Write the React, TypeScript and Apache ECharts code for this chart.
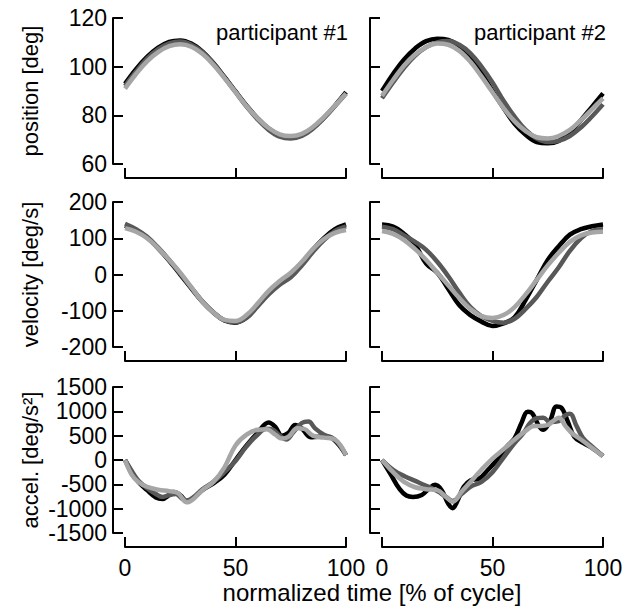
import React, { useEffect, useRef } from "react";
import * as echarts from "echarts";

// x positions (normalized time, % of cycle)
const xs = [0, 5, 10, 15, 20, 25, 30, 35, 40, 45, 50, 55, 60, 65, 70, 75, 80, 85, 90, 95, 100];

// participant #1 position [deg]
const p1PosBlack = [93, 99, 104, 107.8, 110.2, 110.8, 109.5, 106.3, 101.5, 95.8, 89.8, 84, 78.8, 74.6, 71.8, 71, 72, 74.8, 79, 84, 89.5];
const p1PosDark = [92, 98, 103.3, 107.2, 109.6, 110.3, 109, 106, 101.3, 95.6, 89.6, 83.6, 78.3, 74, 71.2, 70.5, 71.5, 74.5, 78.8, 83.8, 89];
const p1PosLight = [91, 97, 102.2, 106, 108.4, 109.2, 108.2, 105.3, 100.8, 95.3, 89.5, 83.8, 78.8, 74.8, 72.2, 71.5, 72.4, 75.2, 79.3, 84, 89];

// participant #2 position [deg]
const p2PosBlack = [90, 97, 103, 107.5, 110.5, 111.5, 111, 108.5, 104, 97.5, 90, 83, 76.5, 72, 69, 68.5, 69.5, 73, 78, 83.5, 89];
const p2PosDark = [87, 93.5, 99.5, 104.5, 108, 110, 110.5, 109, 105.5, 100, 93.5, 86, 79.5, 74, 70.5, 69, 69.5, 71.5, 75, 79.5, 84.5];
const p2PosLight = [88, 94.5, 100.5, 105, 108, 109.5, 109, 106.5, 102, 96, 89.5, 83, 77.5, 73.5, 71, 70.5, 71.5, 74, 78, 82.5, 87];

// participant #1 velocity [deg/s]
const p1VelBlack = [135, 122, 102, 72, 38, 0, -38, -75, -105, -127, -133, -118, -85, -50, -20, -2, 30, 68, 100, 125, 138];
const p1VelDark = [140, 125, 104, 74, 40, 2, -36, -74, -104, -126, -132, -120, -88, -55, -28, -8, 25, 62, 95, 120, 133];
const p1VelLight = [128, 118, 100, 72, 40, 5, -35, -75, -105, -125, -128, -112, -80, -45, -18, 5, 35, 70, 98, 115, 123];

// participant #2 velocity [deg/s]
const p2VelBlack = [138, 132, 112, 82, 30, 5, -40, -85, -112, -130, -142, -135, -118, -70, -15, 40, 78, 110, 125, 133, 138];
const p2VelDark = [132, 125, 108, 90, 68, 35, -5, -50, -90, -115, -128, -133, -122, -95, -62, -20, 20, 65, 100, 120, 125];
const p2VelLight = [120, 112, 95, 70, 40, 5, -30, -65, -95, -115, -120, -112, -90, -55, -15, 25, 60, 90, 108, 116, 118];

// participant #1 acceleration [deg/s²] as [time, value]
const p1AccBlack = [[0, 0], [3, -250], [6, -450], [10, -620], [14, -770], [17, -800], [20, -720], [22, -660], [25, -720], [28, -850], [31, -780], [35, -620], [40, -480], [45, -300], [50, 0], [55, 300], [60, 560], [65, 770], [68, 680], [71, 500], [74, 560], [77, 720], [80, 650], [84, 470], [88, 480], [92, 480], [96, 350], [100, 100]];
const p1AccDark = [[0, 0], [3, -220], [6, -420], [10, -580], [14, -700], [17, -760], [20, -720], [23, -700], [26, -800], [28, -830], [31, -760], [35, -600], [40, -450], [45, -250], [50, -20], [55, 280], [60, 520], [64, 640], [67, 620], [70, 500], [73, 420], [76, 560], [80, 760], [83, 790], [86, 650], [90, 520], [95, 420], [100, 100]];
const p1AccLight = [[0, 0], [3, -300], [6, -450], [10, -550], [15, -610], [20, -640], [24, -680], [28, -870], [31, -800], [35, -620], [40, -450], [45, -150], [50, 300], [55, 520], [60, 620], [64, 630], [68, 520], [71, 440], [74, 480], [78, 650], [81, 640], [85, 500], [90, 460], [95, 420], [100, 100]];

// participant #2 acceleration [deg/s²] as [time, value]
const p2AccBlack = [[0, 0], [4, -300], [8, -600], [11, -730], [14, -760], [18, -720], [21, -600], [24, -510], [27, -620], [30, -900], [32, -990], [34, -850], [37, -550], [40, -420], [44, -380], [48, -200], [52, 0], [56, 250], [60, 450], [63, 750], [66, 990], [68, 960], [71, 700], [73, 620], [76, 800], [79, 1100], [81, 1080], [84, 800], [87, 480], [91, 350], [95, 250], [100, 80]];
const p2AccDark = [[0, 0], [5, -200], [10, -330], [15, -430], [20, -530], [25, -640], [29, -760], [32, -840], [36, -700], [40, -550], [45, -450], [50, -250], [55, 50], [60, 350], [64, 550], [67, 760], [70, 860], [73, 870], [76, 780], [80, 800], [83, 920], [85, 950], [88, 700], [91, 450], [95, 280], [100, 80]];
const p2AccLight = [[0, 0], [5, -250], [10, -450], [15, -560], [20, -600], [25, -620], [29, -760], [32, -860], [36, -650], [40, -450], [45, -200], [50, 30], [55, 220], [60, 420], [65, 600], [69, 700], [72, 700], [75, 720], [78, 820], [80, 870], [83, 700], [86, 550], [90, 420], [95, 250], [100, 80]];

const rowNames = ["position [deg]", "velocity [deg/s]", "accel. [deg/s\u00b2]"];
const rowMin = [60, -200, -1500];
const rowMax = [120, 200, 1500];
const rowInterval = [20, 100, 500];
const participants = ["participant #1", "participant #2"];
const xName = "normalized time [% of cycle]";

const COLORS = ["#000000", "#585858", "#a6a6a6"];
const FONT = "Liberation Sans, Arial, sans-serif";

export default function App() {
  const ref = useRef<HTMLDivElement>(null);
  useEffect(() => {
    if (!ref.current) return;
    const chart = echarts.init(ref.current, null, { renderer: "svg" });
    const rowTop = [18, 202, 387];
    const rowH = [146, 145, 146];
    const colLeft = [125, 382];
    const colW = 221;

    const grids: any[] = [];
    const xAxes: any[] = [];
    const yAxes: any[] = [];
    const series: any[] = [];

    const rowsData = [
      [[p1PosBlack, p1PosDark, p1PosLight], [p2PosBlack, p2PosDark, p2PosLight]],
      [[p1VelBlack, p1VelDark, p1VelLight], [p2VelBlack, p2VelDark, p2VelLight]],
      [[p1AccBlack, p1AccDark, p1AccLight], [p2AccBlack, p2AccDark, p2AccLight]],
    ];

    const axisLine = { show: true, onZero: false, lineStyle: { color: "#000", width: 2 } };
    const axisTick = { show: true, inside: true, length: 10, lineStyle: { color: "#000", width: 2 } };
    const fmt = (v: number) => String(v);

    for (let r = 0; r < 3; r++) {
      for (let c = 0; c < 2; c++) {
        const idx = grids.length;
        grids.push({ left: colLeft[c], top: rowTop[r], width: colW, height: rowH[r], containLabel: false });
        xAxes.push({
          type: "value",
          gridIndex: idx,
          min: 0,
          max: 100,
          interval: 50,
          offset: 14,
          axisLine,
          axisTick,
          splitLine: { show: false },
          axisLabel: {
            show: r === 2,
            margin: 9,
            fontSize: 23,
            color: "#000",
            fontFamily: FONT,
            formatter: fmt,
          },
        });
        yAxes.push({
          type: "value",
          gridIndex: idx,
          min: rowMin[r],
          max: rowMax[r],
          interval: rowInterval[r],
          offset: 12,
          axisLine,
          axisTick,
          splitLine: { show: false },
          name: c === 0 ? rowNames[r] : "",
          nameLocation: "middle",
          nameGap: 72,
          nameTextStyle: { fontSize: 22, color: "#000", fontFamily: FONT },
          axisLabel: {
            show: c === 0,
            margin: 6,
            fontSize: 23,
            color: "#000",
            fontFamily: FONT,
            formatter: fmt,
          },
        });
        const sets = rowsData[r][c];
        for (let k = 0; k < 3; k++) {
          const vals: any[] = sets[k];
          const data = r === 2 ? vals : vals.map((v: number, i: number) => [xs[i], v]);
          series.push({
            type: "line",
            xAxisIndex: idx,
            yAxisIndex: idx,
            data,
            smooth: 0.4,
            showSymbol: false,
            symbol: "none",
            lineStyle: { color: COLORS[k], width: 4.5 },
            z: 2 + k,
          });
        }
      }
    }

    chart.setOption({
      animation: false,
      backgroundColor: "#ffffff",
      textStyle: { fontFamily: FONT },
      grid: grids,
      xAxis: xAxes,
      yAxis: yAxes,
      series,
      graphic: [
        { type: "text", x: 348, y: 32, style: { text: participants[0], fontSize: 22, fontFamily: FONT, fill: "#000", align: "right", verticalAlign: "middle" } },
        { type: "text", x: 606, y: 32, style: { text: participants[1], fontSize: 22, fontFamily: FONT, fill: "#000", align: "right", verticalAlign: "middle" } },
        { type: "text", x: 372, y: 592, style: { text: xName, fontSize: 24, fontFamily: FONT, fill: "#000", align: "center", verticalAlign: "middle" } },
      ],
    });
    return () => chart.dispose();
  }, []);
  return <div ref={ref} style={{ position: "fixed", left: 0, top: 0, width: 631, height: 606 }} />;
}
